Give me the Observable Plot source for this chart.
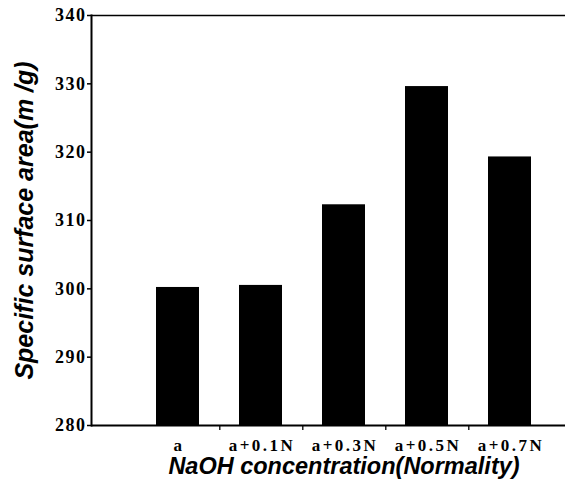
<!DOCTYPE html>
<html>
<head>
<meta charset="utf-8">
<script src="https://cdn.jsdelivr.net/npm/d3@7"></script>
<script src="https://cdn.jsdelivr.net/npm/@observablehq/plot@0.6"></script>
<style>
  html, body { margin: 0; padding: 0; background: #fff; }
  #chart svg { display: block; }
  #chart g[aria-label="y-axis tick label"] text { letter-spacing: 1.5px; }
  #chart g[aria-label="x-axis tick label"] text { letter-spacing: 2.5px; }
</style>
</head>
<body>
<div id="chart"></div>
<script>
const categories = ["a", "a+0.1N", "a+0.3N", "a+0.5N", "a+0.7N"];
const values = [300.2, 300.5, 312.3, 329.6, 319.3];
const yTicks = [280, 290, 300, 310, 320, 330, 340];
const yDomain = [280, 340];
const xTitle = "NaOH concentration(Normality)";
const yTitle = "Specific surface area(m /g)";

const data = categories.map((c, i) => ({cat: c, value: values[i]}));
const bounds = categories.slice(0, -1);

const chart = Plot.plot({
  width: 565,
  height: 485,
  marginLeft: 91,
  marginRight: 0,
  marginTop: 15,
  marginBottom: 60,
  style: {background: "#fff", color: "#000"},
  x: {domain: categories, range: [135, 553], paddingInner: 0.48, paddingOuter: 0.24, axis: null},
  y: {domain: yDomain, axis: null},
  marks: [
    Plot.barY(data, {x: "cat", y1: () => yDomain[0], y2: "value", fill: "#000"}),
    Plot.ruleY([yDomain[1]], {stroke: "#000", strokeWidth: 1.6}),
    Plot.ruleY([yDomain[0]], {stroke: "#000", strokeWidth: 1.8}),
    Plot.frame({anchor: "left", stroke: "#000", strokeWidth: 2}),
    Plot.ruleX(bounds, {x: d => d, dx: 41.8, y1: () => yDomain[0], y2: () => yDomain[0], insetBottom: -5, stroke: "#000", strokeWidth: 1.3}),
    Plot.axisY({
      ticks: yTicks, tickSize: 4, tickPadding: 1, tickFormat: d => String(d),
      fontSize: 18, fontWeight: "bold", fontFamily: "Liberation Serif, Times New Roman, serif",
      stroke: "#000", strokeWidth: 1.5, label: null
    }),
    Plot.axisX({
      tickSize: 0, tickPadding: 13, fontSize: 17, fontWeight: "bold", dx: 1,
      fontFamily: "Liberation Serif, Times New Roman, serif", label: null
    }),
    Plot.text([yTitle], {
      frameAnchor: "left", dx: -67, rotate: -90, text: d => d,
      textAnchor: "middle", lineAnchor: "middle",
      fontSize: 25, fontWeight: "bold", fontStyle: "italic",
      fontFamily: "Liberation Sans, Arial, sans-serif", fill: "#000"
    }),
    Plot.text([xTitle], {
      x: () => categories[2], frameAnchor: "bottom", dy: 41, text: d => d,
      textAnchor: "middle", lineAnchor: "middle",
      fontSize: 23.5, fontWeight: "bold", fontStyle: "italic",
      fontFamily: "Liberation Sans, Arial, sans-serif", fill: "#000"
    })
  ]
});
document.getElementById("chart").appendChild(chart);
</script>
</body>
</html>
